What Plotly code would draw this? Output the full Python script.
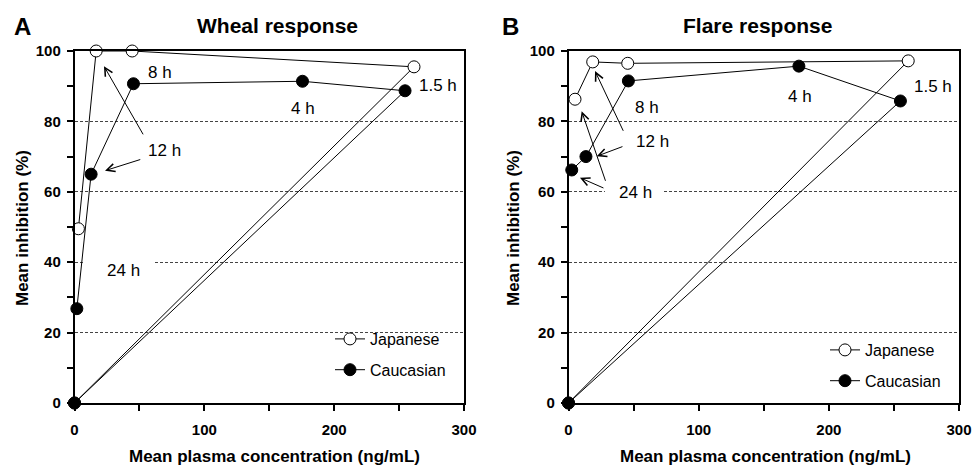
import plotly.graph_objects as go

# ---- data ----
wheal_jp_conc = [0, 261.5, 44.4, 16.7, 3.0]
wheal_jp_inh = [0, 95.5, 100, 100, 49.5]
wheal_ca_conc = [0, 254.6, 175.6, 45.4, 12.8, 1.8]
wheal_ca_inh = [0, 88.7, 91.4, 90.7, 65.0, 26.8]

flare_jp_conc = [0, 261.0, 45.5, 18.6, 5.0]
flare_jp_inh = [0, 97.2, 96.5, 96.9, 86.3]
flare_ca_conc = [0, 255.0, 177.0, 46.0, 13.4, 2.5]
flare_ca_inh = [0, 85.8, 95.7, 91.5, 70.0, 66.2]

panel_titles = ["Wheal response", "Flare response"]
panel_letters = ["A", "B"]
series_names = ["Japanese", "Caucasian"]
x_title = "Mean plasma concentration (ng/mL)"
y_title = "Mean inhibition (%)"
x_ticks = [0, 100, 200, 300]
y_ticks = [0, 20, 40, 60, 80, 100]

FONT = "Liberation Sans, Arial, sans-serif"
W, H = 973, 468

fig = go.Figure()

def add_series(conc, inh, name, filled, xa, ya, legend):
    fig.add_trace(go.Scatter(
        x=conc, y=inh, mode="lines+markers", name=name,
        xaxis=xa, yaxis=ya, legend=legend, legendgroup=legend + name,
        cliponaxis=False,
        line=dict(color="black", width=1),
        marker=dict(symbol="circle", size=12,
                    color="black" if filled else "white",
                    line=dict(color="black", width=1)),
    ))

add_series(wheal_jp_conc, wheal_jp_inh, series_names[0], False, "x", "y", "legend")
add_series(wheal_ca_conc, wheal_ca_inh, series_names[1], True, "x", "y", "legend")
add_series(flare_jp_conc, flare_jp_inh, series_names[0], False, "x2", "y2", "legend2")
add_series(flare_ca_conc, flare_ca_inh, series_names[1], True, "x2", "y2", "legend2")

def xax(domain, anchor):
    return dict(domain=domain, anchor=anchor, range=[0, 300],
                tickmode="array", tickvals=x_ticks, ticktext=["<b>%d</b>" % v for v in x_ticks],
                ticks="outside", ticklen=6, tickwidth=1.5, tickcolor="black", ticklabelstandoff=6,
                minor=dict(dtick=50, tick0=0, ticks="outside", ticklen=6, tickwidth=1.5, tickcolor="black"),
                showline=True, mirror=True, linecolor="black", linewidth=1.5,
                showgrid=False, zeroline=False, automargin=False,
                tickfont=dict(family=FONT, size=15, color="black"))

def yax(domain, anchor):
    return dict(domain=domain, anchor=anchor, range=[0, 100],
                tickmode="array", tickvals=y_ticks, ticktext=["<b>%d</b>" % v for v in y_ticks],
                ticks="outside", ticklen=6, tickwidth=1.5, tickcolor="black", ticklabelstandoff=3,
                minor=dict(dtick=10, tick0=0, ticks="outside", ticklen=6, tickwidth=1.5, tickcolor="black", showgrid=False),
                showline=True, mirror=True, linecolor="black", linewidth=1.5,
                showgrid=True, gridcolor="#444", gridwidth=1, griddash="3px,2px",
                zeroline=False, automargin=False,
                tickfont=dict(family=FONT, size=15, color="black"))

ydom = [65 / H, 417 / H]
fig.update_layout(
    width=W, height=H, margin=dict(l=0, r=0, t=0, b=0),
    paper_bgcolor="white", plot_bgcolor="white",
    xaxis=xax([74.5 / W, 464 / W], "y"),
    yaxis=yax(ydom, "x"),
    xaxis2=xax([568.5 / W, 959 / W], "y2"),
    yaxis2=yax(ydom, "x2"),
    legend=dict(x=330 / W, y=1 - 322 / H, xanchor="left", yanchor="top",
                bgcolor="rgba(0,0,0,0)", tracegroupgap=7, traceorder="grouped",
                font=dict(family=FONT, size=16, color="black")),
    legend2=dict(x=825 / W, y=1 - 333 / H, xanchor="left", yanchor="top",
                 bgcolor="rgba(0,0,0,0)", tracegroupgap=7, traceorder="grouped",
                 font=dict(family=FONT, size=16, color="black")),
    showlegend=True,
)

# gridline breaks behind labels
fig.add_shape(type="rect", xref="x", yref="y", x0=6.5, x1=60.5, y0=38.5, y1=41.5,
              fillcolor="white", line=dict(width=0), layer="between")
fig.add_shape(type="rect", xref="x2", yref="y2", x0=28.0, x1=72.6, y0=58.5, y1=61.5,
              fillcolor="white", line=dict(width=0), layer="between")

def paper_text(px, py, text, size, angle=0):
    fig.add_annotation(x=px / W, y=1 - py / H, xref="paper", yref="paper", text=text,
                       xanchor="center", yanchor="middle", showarrow=False, textangle=angle,
                       font=dict(family=FONT, size=size, color="black"))

# panel letters and titles
for i, (letter, title) in enumerate(zip(panel_letters, panel_titles)):
    paper_text([22, 510][i], 26, "<b>%s</b>" % letter, 24)
    paper_text([277, 757][i], 25, "<b>%s</b>" % title, 21)
    paper_text([274, 765][i], 456, "<b>%s</b>" % x_title, 17)
    paper_text([22, 513][i], 228, "<b>%s</b>" % y_title, 17, angle=-90)

# time labels
lab_font = dict(family=FONT, size=17, color="black")
labels_a = [("8 h", 65.9, 94.0), ("12 h", 69.0, 71.6), ("4 h", 176.0, 83.6),
            ("1.5 h", 280.0, 90.1), ("24 h", 37.6, 37.6)]
labels_b = [("8 h", 60.3, 84.0), ("12 h", 64.5, 74.4), ("24 h", 51.8, 59.7),
            ("4 h", 177.8, 87.2), ("1.5 h", 280.3, 90.0)]
for t, x, y in labels_a:
    fig.add_annotation(x=x, y=y, xref="x", yref="y", text=t, showarrow=False, font=lab_font,
                       xanchor="center", yanchor="middle")
for t, x, y in labels_b:
    fig.add_annotation(x=x, y=y, xref="x2", yref="y2", text=t, showarrow=False, font=lab_font,
                       xanchor="center", yanchor="middle")

# arrows: (head x, head y, tail x, tail y)
arrows_a = [(22.7, 95.7, 53.5, 75.9), (23.5, 66.0, 51.8, 69.3)]
arrows_b = [(20.4, 94.3, 42.6, 76.9), (21.7, 70.1, 42.6, 73.0),
            (10.1, 82.9, 28.8, 62.7), (8.8, 64.0, 28.0, 60.9)]
for arr, xr, yr in [(arrows_a, "x", "y"), (arrows_b, "x2", "y2")]:
    for hx, hy, tx_, ty in arr:
        fig.add_annotation(x=hx, y=hy, ax=tx_, ay=ty, xref=xr, yref=yr, axref=xr, ayref=yr,
                           text="", showarrow=True, arrowhead=5, arrowsize=1.6,
                           arrowwidth=1, arrowcolor="black", standoff=0, startstandoff=0)

fig.write_html("out.html")
